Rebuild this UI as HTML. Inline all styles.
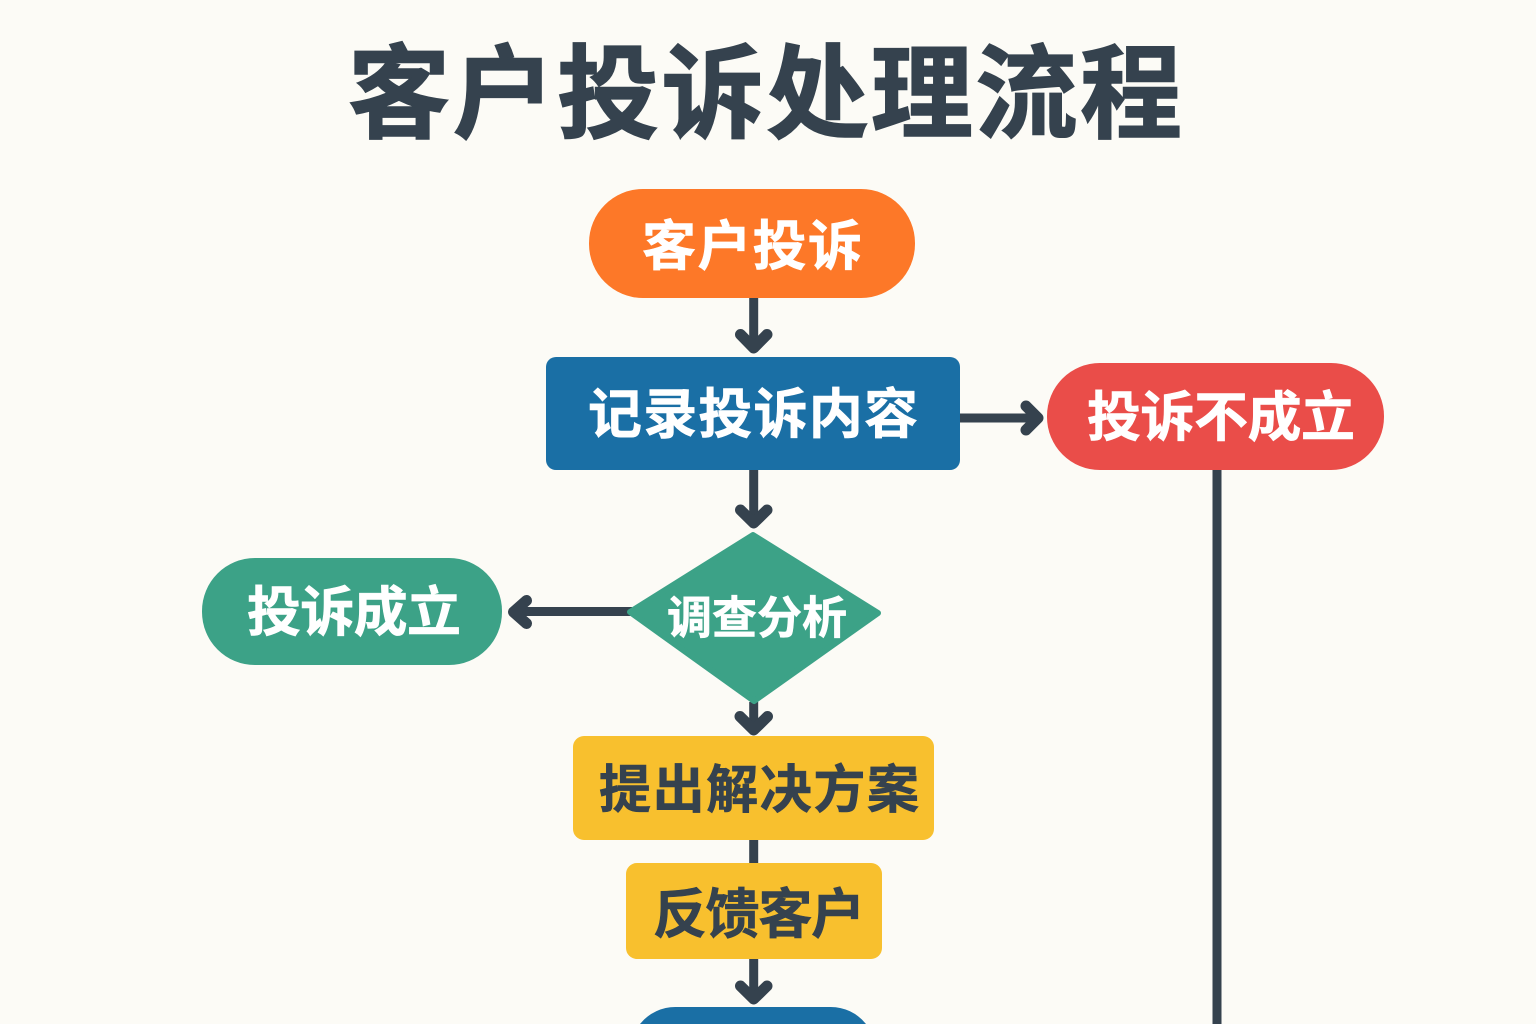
<!DOCTYPE html>
<html lang="zh">
<head>
<meta charset="utf-8">
<style>
html,body{margin:0;padding:0;background:#fcfbf6;overflow:hidden;}
svg{display:block;}
text{font-family:"Liberation Sans","Noto Sans CJK SC",sans-serif;font-weight:700;text-anchor:middle;dominant-baseline:central;}
</style>
</head>
<body>
<svg width="1536" height="1024" viewBox="0 0 1536 1024" xmlns="http://www.w3.org/2000/svg">
<rect width="1536" height="1024" fill="#fcfbf6"/>
<text x="765" y="95" font-size="102" fill="#35424e" stroke="#35424e" stroke-width="1.5" textLength="834" lengthAdjust="spacing">客户投诉处理流程</text>

<g fill="none" stroke="#35424e" stroke-width="9" stroke-linecap="butt">
<path d="M753.7 296V346"/>
<path d="M960 418H1036"/>
<path d="M753.7 468V522"/>
<path d="M632 611.500H516"/>
<path d="M753.700 702V728"/>
<path d="M753.700 838V866"/>
<path d="M753.700 958V996"/>
<path d="M1217 468V1024"/>
</g>
<g fill="none" stroke="#35424e" stroke-width="11" stroke-linecap="round" stroke-linejoin="round">
<path d="M740.500 334.500L753.700 348L767 334.500"/>
<path d="M1026 406L1038 418L1026 430"/>
<path d="M740.500 510L753.700 523L767 510"/>
<path d="M526.500 600.500L513.500 612L526.500 623.500"/>
<path d="M740 716.500L753.700 730L767.500 716.500"/>
<path d="M740.500 986L753.700 999L767 986"/>
</g>

<rect x="589" y="189" width="326" height="109" rx="54" fill="#fd7828"/>
<rect x="546" y="357" width="414" height="113" rx="10" fill="#1a6fa5"/>
<rect x="1047" y="363" width="337" height="107" rx="53" fill="#ea4d49"/>
<rect x="202" y="558" width="300" height="107" rx="53" fill="#3ca287"/>
<polygon points="753,535 878,613 754,701 630,612" fill="#3ca287" stroke="#3ca287" stroke-width="6" stroke-linejoin="round"/>
<rect x="573" y="736" width="361" height="104" rx="11" fill="#f8c02e"/>
<rect x="626" y="863" width="256" height="96" rx="11" fill="#f8c02e"/>
<path d="M640 1024A45 45 0 0 1 677 1007H830A45 45 0 0 1 866 1024Z" fill="#1a6fa5"/>

<g font-size="54" fill="#ffffff" stroke="#ffffff" stroke-width="0.6">
<text x="752" y="247" textLength="220" lengthAdjust="spacing">客户投诉</text>
<text x="753" y="415" textLength="330" lengthAdjust="spacing">记录投诉内容</text>
<text x="1221" y="418" textLength="268" lengthAdjust="spacing">投诉不成立</text>
<text x="354" y="613" textLength="214" lengthAdjust="spacing">投诉成立</text>
<text x="757" y="618" font-size="45" textLength="180" lengthAdjust="spacing">调查分析</text>
</g>
<g font-size="52" fill="#35424e" stroke="#35424e" stroke-width="0.6">
<text x="759" y="791" textLength="320" lengthAdjust="spacing">提出解决方案</text>
<text x="759" y="915" font-size="54" textLength="212" lengthAdjust="spacing">反馈客户</text>
</g>
</svg>
</body>
</html>
